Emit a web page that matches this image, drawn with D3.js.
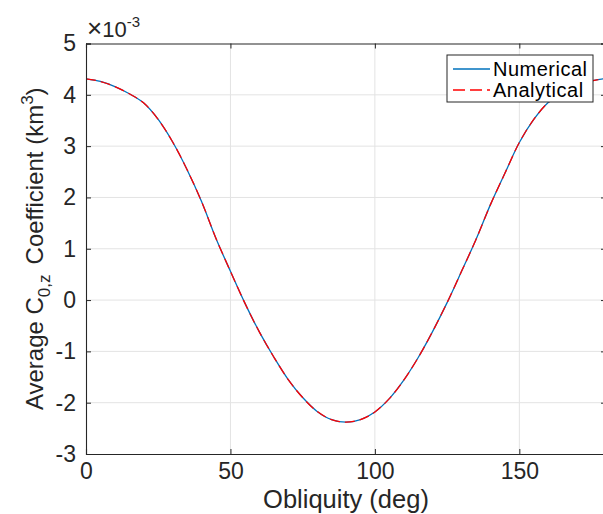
<!DOCTYPE html>
<html><head><meta charset="utf-8">
<script src="https://cdn.jsdelivr.net/npm/d3@7"></script>
<style>
body{margin:0;background:#fff;overflow:hidden}
text{font-family:"Liberation Sans",Arial,Helvetica,sans-serif;fill:#262626}
</style>
</head><body><svg id="c" width="603" height="514"></svg>
<script>
// Data (values in units of 1e-3 km^3)
const obliquity = [0,5,10,15,20,25,30,35,40,45,50,55,60,65,70,75,80,85,90,
                   95,100,105,110,115,120,125,130,135,140,145,150,155,160,165,170,175,180];
const numerical = [4.31,4.26,4.16,4.02,3.84,3.52,3.08,2.54,1.92,1.20,0.56,-0.06,-0.62,-1.11,-1.55,-1.90,-2.17,-2.33,-2.38,
                   -2.33,-2.18,-1.92,-1.56,-1.12,-0.61,-0.05,0.56,1.18,1.86,2.47,3.07,3.52,3.85,4.04,4.17,4.27,4.32];
const analytical = [4.31,4.26,4.16,4.02,3.84,3.52,3.08,2.54,1.92,1.20,0.56,-0.06,-0.62,-1.11,-1.55,-1.90,-2.17,-2.33,-2.38,
                   -2.33,-2.18,-1.92,-1.56,-1.12,-0.61,-0.05,0.56,1.18,1.86,2.47,3.07,3.52,3.85,4.04,4.17,4.27,4.32];
const xTicks = [0,50,100,150];
const yTicks = [-3,-2,-1,0,1,2,3,4,5];
const seriesNames = ["Numerical","Analytical"];

const svg = d3.select("#c");
const L = 86, R = 606, T = 43.5, B = 454;
const x = d3.scaleLinear().domain([0,180]).range([L,R]);
const y = d3.scaleLinear().domain([-3,5]).range([B,T]);

// grid
const g = svg.append("g");
g.selectAll(".gx").data(xTicks.filter(d=>d>0)).join("line")
  .attr("x1",d=>x(d)).attr("x2",d=>x(d)).attr("y1",T).attr("y2",B)
  .attr("stroke","#e3e3e3").attr("stroke-width",1);
g.selectAll(".gy").data(yTicks.filter(d=>d>-3&&d<5)).join("line")
  .attr("y1",d=>y(d)).attr("y2",d=>y(d)).attr("x1",L).attr("x2",R)
  .attr("stroke","#e3e3e3").attr("stroke-width",1);

// clip
svg.append("clipPath").attr("id","clip").append("rect")
  .attr("x",L).attr("y",T).attr("width",R-L).attr("height",B-T);

const line = d3.line().curve(d3.curveCatmullRom.alpha(0.5));
const ptsN = obliquity.map((o,i)=>[x(o),y(numerical[i])]);
const ptsA = obliquity.map((o,i)=>[x(o),y(analytical[i])]);
const plot = svg.append("g").attr("clip-path","url(#clip)");
plot.append("path").attr("d",line(ptsN)).attr("fill","none")
  .attr("stroke","#0072BD").attr("stroke-width",1.3);
plot.append("path").attr("d",line(ptsA)).attr("fill","none")
  .attr("stroke","#FF0000").attr("stroke-width",1.3).attr("stroke-dasharray","10,5");

// axes with inward ticks
const tl = 5;
const fmt = d => String(d);
const axB = d3.axisBottom(x).tickValues(xTicks).tickSize(-tl).tickPadding(9).tickFormat(fmt);
const axT = d3.axisTop(x).tickValues(xTicks).tickSize(-tl).tickFormat("");
const axL = d3.axisLeft(y).tickValues(yTicks).tickSize(-tl).tickPadding(10).tickFormat(fmt);
const axR = d3.axisRight(y).tickValues(yTicks).tickSize(-tl).tickFormat("");
function style(sel){
  sel.select(".domain").attr("stroke","#262626").attr("stroke-width",1.1);
  sel.selectAll(".tick line").attr("stroke","#262626");
  sel.selectAll(".tick text").attr("fill","#262626").style("font-size","23px")
     .style("font-family",'"Liberation Sans",Arial,sans-serif');
}
svg.append("g").attr("transform",`translate(0,${B})`).call(axB).call(style);
svg.append("g").attr("transform",`translate(0,${T})`).call(axT).call(style);
svg.append("g").attr("transform",`translate(${L},0)`).call(axL).call(style);
svg.append("g").attr("transform",`translate(${R},0)`).call(axR).call(style);

// exponent
const ex = svg.append("text").attr("x",87).attr("y",37).style("font-size","22px");
ex.append("tspan").style("font-size","26px").text("\u00d7");
ex.append("tspan").text("10");
ex.append("tspan").attr("dy",-10).style("font-size","15px").text("-3");

// x label
svg.append("text").attr("x",(L+R)/2).attr("y",508).attr("text-anchor","middle")
  .style("font-size","25.5px").text("Obliquity (deg)");

// y label
const yl = svg.append("text").attr("transform",`translate(43,${(T+B)/2}) rotate(-90)`)
  .attr("text-anchor","middle").style("font-size","24px");
yl.append("tspan").text("Average C");
yl.append("tspan").attr("dy",7).style("font-size","17px").text("0,z");
yl.append("tspan").attr("dy",-7).attr("dx",10).text("Coefficient (km");
yl.append("tspan").attr("dy",-10).style("font-size","17px").text("3");
yl.append("tspan").attr("dy",10).text(")");

// legend
const lg = svg.append("g");
lg.append("rect").attr("x",447).attr("y",55).attr("width",146).attr("height",47)
  .attr("fill","#fff").attr("stroke","#262626").attr("stroke-width",1);
const colors = ["#0072BD","#FF0000"], dashes = [null,"12,5"];
seriesNames.forEach((n,i)=>{
  const yy = 69 + i*21;
  lg.append("line").attr("x1",453).attr("x2",490).attr("y1",yy).attr("y2",yy)
    .attr("stroke",colors[i]).attr("stroke-width",1.3).attr("stroke-dasharray",dashes[i]);
  lg.append("text").attr("x",493).attr("y",yy+7).style("font-size","20px")
    .style("letter-spacing","0.5px").style("fill","#000").text(n);
});
</script></body></html>
